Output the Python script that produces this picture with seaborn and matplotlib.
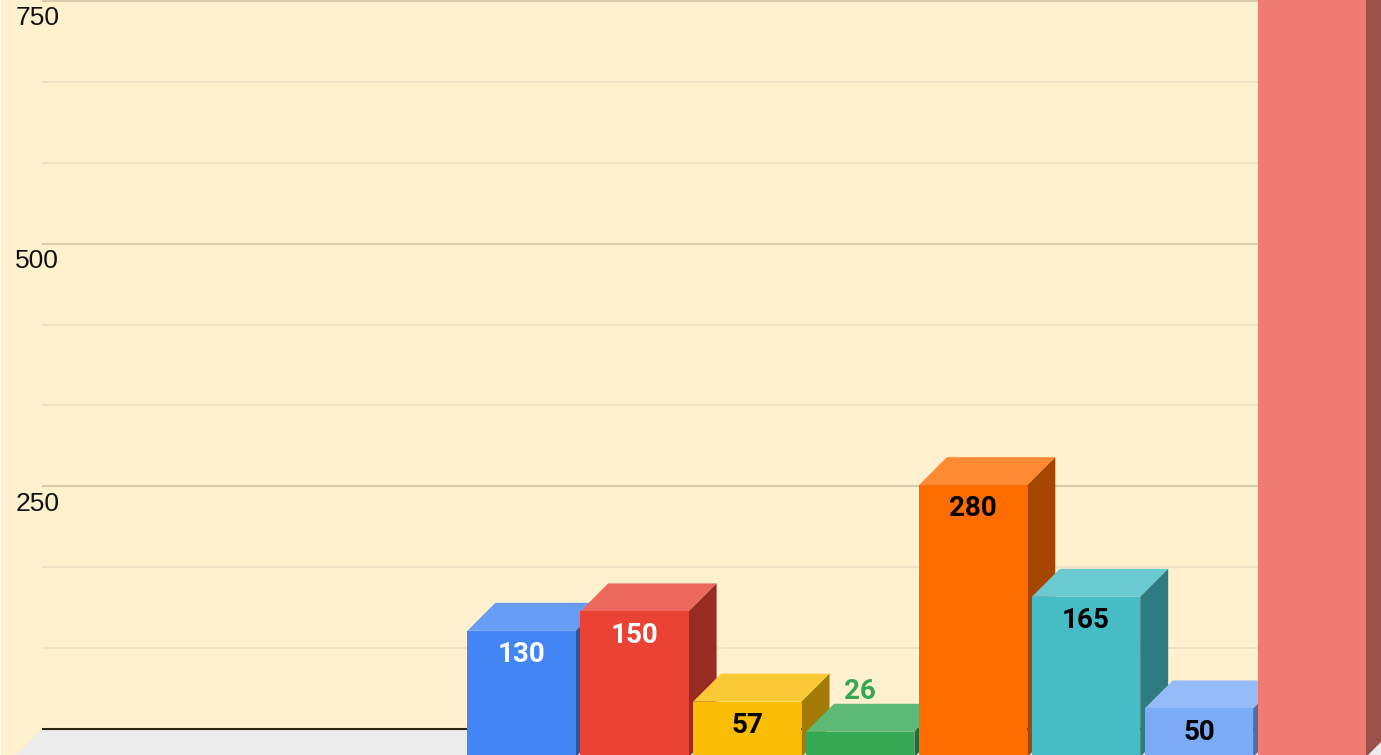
import numpy as np
import seaborn as sns
import matplotlib.pyplot as plt
from matplotlib.colors import to_rgb

# values, last bar runs off the top so its value is a guess
categories = ["A", "B", "C", "D", "E", "F", "G", "H"]
values = [130, 150, 57, 26, 280, 165, 50, 850]
bar_colors = ["#4285f4", "#ea4335", "#fbbc04", "#34a853", "#ff6d01", "#46bdc6", "#7baaf7", "#f07b72"]
label_colors = ["white", "white", "black", "#34a853", "black", "black", "black", None]
label_outside = [False, False, False, True, False, False, False, False]
major_ticks = [250, 500, 750]
minor_ticks = [83.3, 166.7, 333.3, 416.7, 583.3, 666.7]

px_per_cat = 112.9
px_per_val = 0.9707
depth_x = 28 / px_per_cat
depth_y = 28 / px_per_val

sns.set_style("white")
plt.rcParams['font.family'] = ['Liberation Sans', 'DejaVu Sans']


def shade(color, amount):
    # amount > 0 goes to white, amount < 0 goes to black
    c = np.array(to_rgb(color))
    if amount > 0:
        return tuple(c + (1 - c) * amount)
    return tuple(c * (1 + amount))


fig = plt.figure(figsize=(13.81, 7.55), dpi=100)
ax = fig.add_axes([0, 0, 1, 1])
ax.set_facecolor("#fff1cd")

sns.barplot(x=categories, y=values, hue=categories, palette=bar_colors, width=0.96,
            saturation=1, legend=False, ax=ax)
bars = list(ax.patches)

x_left = -521.5 / px_per_cat
x_right = (1381 - 521.5) / px_per_cat
ax.set_xlim(x_left, x_right)
ax.set_ylim(2 / px_per_val, 757 / px_per_val)

# back wall and floor
wall_x = (42 - 521.5) / px_per_cat
ax.fill([wall_x - depth_x, wall_x, x_right + 1, x_right + 1], [0, depth_y, depth_y, 0],
        color="#ececec", lw=0, zorder=1)
ax.hlines([v + depth_y for v in minor_ticks], wall_x, x_right, color="#eee1c5", lw=1.5, zorder=2)
ax.hlines([v + depth_y for v in major_ticks], wall_x, x_right, color="#d8cba9", lw=1.5, zorder=2)
ax.hlines(depth_y, wall_x, x_right, color="#2b2616", lw=1.5, zorder=2)

# 3d faces are worked out from the bars seaborn drew
for i, bar in enumerate(bars):
    x0 = bar.get_x()
    x1 = x0 + bar.get_width()
    h = bar.get_height()
    color = bar_colors[i]
    bar.set_linewidth(0)
    bar.set_zorder(11 + i * 2)
    ax.fill([x0, x1, x1 + depth_x, x0 + depth_x], [h, h, h + depth_y, h + depth_y],
            color=shade(color, 0.2), lw=0, zorder=10 + i * 2)
    ax.fill([x1, x1 + depth_x, x1 + depth_x, x1], [0, depth_y, h + depth_y, h],
            color=shade(color, -0.35), lw=0, zorder=10 + i * 2)
    if label_colors[i] is None:
        continue
    offset = 29 if label_outside[i] else -17
    ax.annotate(str(values[i]), (i, h), xytext=(0, offset), textcoords="offset points",
                ha="center", va="center", fontsize=20, fontweight="bold",
                family="Roboto", color=label_colors[i], zorder=40)

ax.set_xticks([])
ax.set_yticks([v + 13.5 for v in major_ticks])
ax.set_yticklabels([str(v) for v in major_ticks], fontsize=19, color="#111111", ha="left")
ax.tick_params(axis="y", left=False, pad=-14.5)
ax.set_xlabel("")
ax.set_ylabel("")
for side in ["top", "right", "bottom"]:
    ax.spines[side].set_visible(False)
ax.spines["left"].set_color("#fffaf0")
ax.spines["left"].set_linewidth(1.5)

plt.savefig("out.png", dpi=100)
